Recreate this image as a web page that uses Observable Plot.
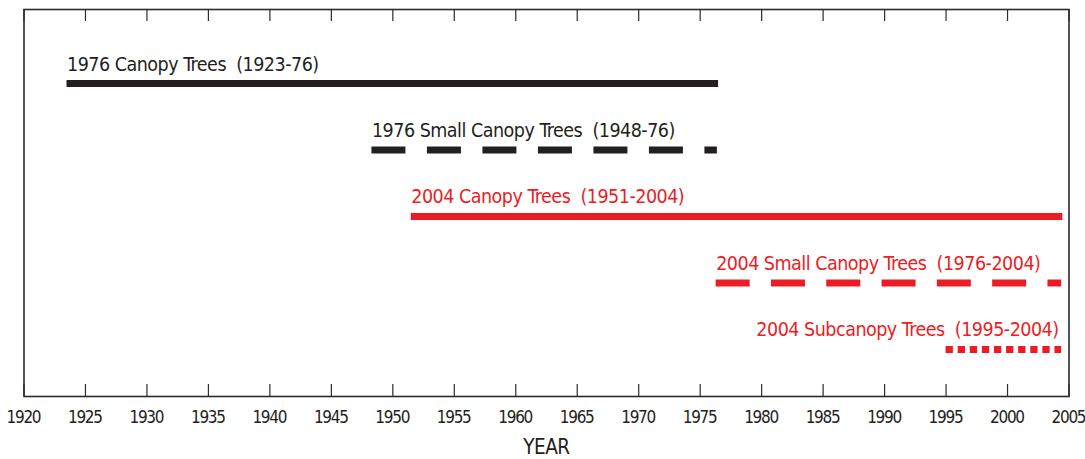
<!DOCTYPE html>
<html>
<head>
<meta charset="utf-8">
<script src="https://cdn.jsdelivr.net/npm/d3@7"></script>
<script src="https://cdn.jsdelivr.net/npm/@observablehq/plot@0.6"></script>
<style>
  html, body { margin: 0; padding: 0; background: #ffffff; }
  #chart svg { display: block; }
</style>
</head>
<body>
<div id="chart"></div>
<script>
// ---- data ----
const series = ["1976 Canopy Trees", "1976 Small Canopy Trees", "2004 Canopy Trees", "2004 Small Canopy Trees", "2004 Subcanopy Trees"];
const ranges = ["(1923-76)", "(1948-76)", "(1951-2004)", "(1976-2004)", "(1995-2004)"];
const surveys = ["1976", "1976", "2004", "2004", "2004"];
const startYear = [1923.5, 1948.3, 1951.5, 1976.3, 1995.0];
const endYear = [1976.5, 1976.4, 2004.5, 2004.4, 2004.4];
const tickYears = [1920, 1925, 1930, 1935, 1940, 1945, 1950, 1955, 1960, 1965, 1970, 1975, 1980, 1985, 1990, 1995, 2000, 2005];
const axisTitle = "YEAR";

// ---- styles ----
const BLACK = "#231f20", RED = "#ed1c24", FRAME = "#2b2b2b";
const surveyColor = {"1976": BLACK, "2004": RED};
const rowDash = ["none", "34,21.5", "none", "34,21.3", "7.3,4.8"];
const rowAnchor = ["start", "start", "start", "start", "end"];
const FONT = "'Noto Sans Condensed', 'DejaVu Sans Condensed', 'DejaVu Sans', sans-serif";

const rows = series.map((s, i) => ({
  series: s, range: ranges[i], survey: surveys[i],
  start: startYear[i], end: endYear[i], row: i,
  label: s + "\u00a0 " + ranges[i]
}));

const W = 1085, H = 459, mTop = 9, mBottom = 63;
const plotH = H - mTop - mBottom;

const marks = [
  Plot.frame({stroke: FRAME, strokeWidth: 1.6}),
  Plot.ruleX(tickYears, {x: d => d, insetTop: plotH - 12, stroke: FRAME, strokeWidth: 1.2}),
  Plot.ruleX(tickYears, {x: d => d, insetBottom: plotH - 12, stroke: FRAME, strokeWidth: 1.2}),
  Plot.axisX(tickYears, {tickSize: 0, tickPadding: 14, tickFormat: d => String(d), fontSize: 17, fill: BLACK, label: null, dx: -0.6}),
  Plot.text([axisTitle], {frameAnchor: "bottom", text: d => d, dy: 57, lineAnchor: "bottom", fontSize: 20.5, fill: BLACK})
];

rows.forEach((d, i) => {
  marks.push(Plot.ruleY([d], {
    x1: "start", x2: "end", y: "row",
    stroke: surveyColor[d.survey], strokeWidth: 7,
    strokeDasharray: rowDash[i], strokeLinecap: "butt"
  }));
  marks.push(Plot.text([d], {
    x: rowAnchor[i] === "start" ? "start" : "end", y: "row", text: "label",
    textAnchor: rowAnchor[i], dx: rowAnchor[i] === "start" ? 0 : -3,
    dy: -13, lineAnchor: "bottom",
    fill: surveyColor[d.survey], fontSize: 19.5
  }));
});

const chart = Plot.plot({
  width: W, height: H,
  marginTop: mTop, marginBottom: mBottom, marginLeft: 23.5, marginRight: 16.5,
  style: {fontFamily: FONT, fontStretch: "condensed", background: "#ffffff", color: BLACK},
  x: {domain: [1920, 2005], axis: null},
  y: {domain: [-1.113, 4.707], reverse: true, axis: null},
  marks
});
document.getElementById("chart").appendChild(chart);
// tighten tracking to mimic the condensed face of the original
d3.select(chart).selectAll("g[aria-label='x-axis tick label'] text").style("letter-spacing", "-1.3px");
d3.select(chart).selectAll("g[aria-label='text'] text").style("letter-spacing", "-0.5px");
</script>
</body>
</html>
